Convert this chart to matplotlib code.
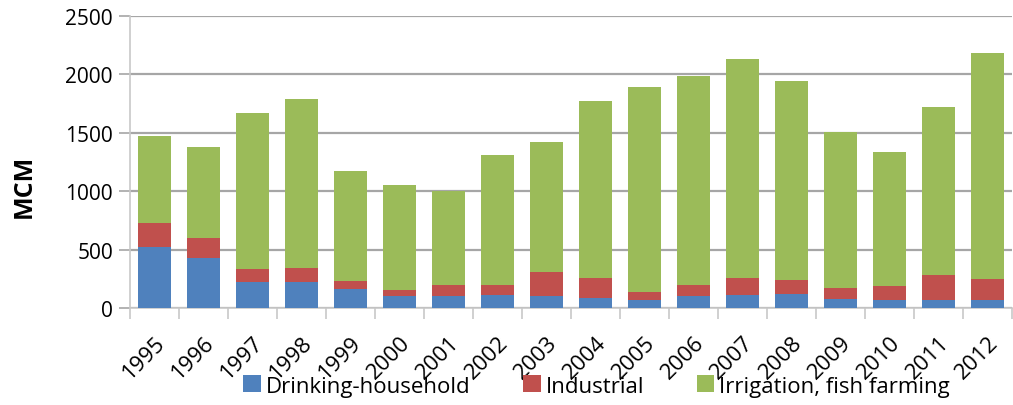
import matplotlib
matplotlib.use("Agg")
import matplotlib.pyplot as plt
import numpy as np

plt.rcParams['font.family'] = ['Open Sans', 'DejaVu Sans']

# Water use per sector, million cubic metres
years = [str(y) for y in range(1995, 2013)]
drinking = [525, 430, 220, 225, 160, 105, 105, 110, 100, 85, 70, 105, 115, 120, 80, 70, 70, 70]
industrial = [205, 165, 110, 115, 75, 45, 90, 85, 210, 170, 65, 90, 140, 120, 90, 115, 215, 180]
irrigation = [745, 780, 1340, 1450, 935, 900, 805, 1115, 1115, 1520, 1760, 1790, 1880, 1705, 1335, 1150, 1440, 1930]

BLUE = "#4F81BD"
RED = "#C0504D"
GREEN = "#9BBB59"
GRID = "#a6a6a6"
AXIS = "#c8c8c8"

fig = plt.figure(figsize=(10.13, 4.06), dpi=100)
ax = fig.add_axes([0.128, 0.239, 0.871, 0.719])

x = np.arange(len(years))
d = np.array(drinking)
i = np.array(industrial)
g = np.array(irrigation)
w = 0.67
ax.bar(x, d, w, color=BLUE, label="Drinking-household", zorder=3)
ax.bar(x, i, w, bottom=d, color=RED, label="Industrial", zorder=3)
ax.bar(x, g, w, bottom=d + i, color=GREEN, label="Irrigation, fish farming", zorder=3)

ax.set_xlim(-0.5, len(years) - 0.5)
ax.set_ylim(0, 2500)
ax.set_yticks(range(0, 2501, 500))
ax.yaxis.grid(True, color=GRID, linewidth=1.6, zorder=0)
ax.set_axisbelow(True)

# category labels at centres, tick marks between categories
ax.set_xticks(x)
ax.set_xticklabels(years, rotation=45, ha='right', rotation_mode='anchor', fontsize=16)
ax.set_xticks(np.arange(-0.5, len(years), 1), minor=True)
ax.tick_params(axis='x', which='major', length=0, pad=17)
ax.tick_params(axis='x', which='minor', length=8, color=AXIS, width=1.2)
ax.tick_params(axis='y', length=8, color=GRID, width=1.2, labelsize=15, pad=4)

for side in ['top', 'right']:
    ax.spines[side].set_visible(False)
ax.spines['left'].set_color(AXIS)
ax.spines['bottom'].set_color(AXIS)
ax.spines['left'].set_linewidth(1.2)
ax.spines['bottom'].set_linewidth(1.2)

ax.set_ylabel("MCM", fontsize=18, fontweight='bold')
ax.yaxis.set_label_coords(-0.105, 0.42)

fig.legend(loc='center', bbox_to_anchor=(0.589, 0.047), ncol=3, frameon=False,
           fontsize=16, handlelength=0.8, handleheight=0.8, handletextpad=0.23,
           columnspacing=2.35, borderpad=0)

fig.savefig("out.png", dpi=100)
